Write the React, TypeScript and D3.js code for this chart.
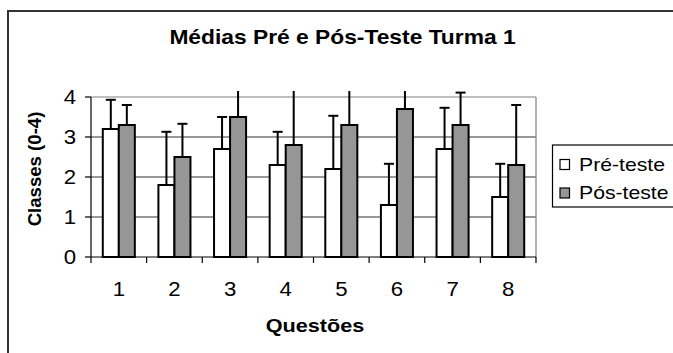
import React from "react";
import * as d3 from "d3";

const categories = ["1", "2", "3", "4", "5", "6", "7", "8"];
const seriesNames = ["Pré-teste", "Pós-teste"];
const preValues = [3.2, 1.8, 2.7, 2.3, 2.2, 1.3, 2.7, 1.5];
const posValues = [3.3, 2.5, 3.5, 2.8, 3.3, 3.7, 3.3, 2.3];
const preErrors = [0.73, 1.33, 0.8, 0.83, 1.33, 1.03, 1.03, 0.83];
const posErrors = [0.5, 0.83, 1.0, 1.5, 1.1, 0.8, 0.81, 1.5];
const yTicks = [0, 1, 2, 3, 4];
const title = "Médias Pré e Pós-Teste Turma 1";
const xTitle = "Questões";
const yTitle = "Classes (0-4)";

const W = 673;
const H = 353;
const plot = { left: 91, right: 536, top: 97, bottom: 257 };
const fills = ["#ffffff", "#969696"];
const FONT = "'Liberation Sans', Arial, Helvetica, sans-serif";
const SX = 1.14;

export default function App() {
  const x0 = d3
    .scaleBand<string>()
    .domain(categories)
    .range([plot.left, plot.right])
    .paddingInner(0.424)
    .paddingOuter(0.212);
  const x1 = d3
    .scaleBand<number>()
    .domain([0, 1])
    .range([0, x0.bandwidth()]);
  const y = d3.scaleLinear().domain([0, 4]).range([plot.bottom, plot.top]);
  const step = x0.step();

  const series = [
    { values: preValues, errors: preErrors },
    { values: posValues, errors: posErrors },
  ];

  const boundaries = d3.range(categories.length + 1).map((i) => plot.left + i * step);

  const stretchText = (
    x: number,
    yy: number,
    text: string,
    opts: { size: number; bold?: boolean; anchor?: string; key?: string }
  ) => (
    <text
      key={opts.key}
      transform={`translate(${x},${yy}) scale(${SX},1)`}
      textAnchor={opts.anchor || "middle"}
      fontFamily={FONT}
      fontSize={opts.size}
      fontWeight={opts.bold ? "bold" : "normal"}
      fill="#000"
    >
      {text}
    </text>
  );

  return (
    <svg
      width={W}
      height={H}
      style={{ position: "absolute", left: 0, top: 0, background: "#fff" }}
    >
      <defs>
        <clipPath id="errclip">
          <rect x={0} y={91} width={W} height={H} />
        </clipPath>
      </defs>
      {/* chart border */}
      <rect x={8} y={11} width={720} height={400} fill="#fff" stroke="#333" strokeWidth={2} />

      {/* title */}
      {stretchText(342.5, 43.5, title, { size: 20, bold: true })}

      {/* gridlines */}
      {yTicks.slice(1).map((t) => (
        <line
          key={"g" + t}
          x1={plot.left}
          x2={plot.right}
          y1={y(t)}
          y2={y(t)}
          stroke={t === 4 ? "#808080" : "#333"}
          strokeWidth={1.2}
        />
      ))}
      {/* plot area right border */}
      <line x1={plot.right} x2={plot.right} y1={plot.top} y2={plot.bottom} stroke="#808080" strokeWidth={1.2} />

      {/* bars */}
      {series.map((s, si) =>
        categories.map((c, ci) => {
          const bx = (x0(c) as number) + (x1(si) as number);
          const v = s.values[ci];
          return (
            <rect
              key={`b${si}-${ci}`}
              x={bx}
              y={y(v)}
              width={x1.bandwidth()}
              height={y(0) - y(v)}
              fill={fills[si]}
              stroke="#000"
              strokeWidth={2}
            />
          );
        })
      )}

      {/* error bars */}
      <g clipPath="url(#errclip)">
        {series.map((s, si) =>
          categories.map((c, ci) => {
            const cx = (x0(c) as number) + (x1(si) as number) + x1.bandwidth() / 2;
            const v = s.values[ci];
            const top = v + s.errors[ci];
            return (
              <g key={`e${si}-${ci}`} stroke="#000" strokeWidth={2}>
                <line x1={cx} x2={cx} y1={y(v)} y2={y(top)} />
                <line x1={cx - 5} x2={cx + 5} y1={y(top)} y2={y(top)} />
              </g>
            );
          })
        )}
      </g>

      {/* axes */}
      <line x1={plot.left} x2={plot.left} y1={plot.top} y2={plot.bottom} stroke="#000" strokeWidth={1.2} />
      <line x1={plot.left} x2={plot.right} y1={plot.bottom} y2={plot.bottom} stroke="#000" strokeWidth={1.2} />
      {yTicks.map((t) => (
        <g key={"yt" + t}>
          <line x1={plot.left - 6} x2={plot.left} y1={y(t)} y2={y(t)} stroke="#000" strokeWidth={1.2} />
          {stretchText(76, y(t) + 7, String(t), { size: 19.5, anchor: "end" })}
        </g>
      ))}
      {boundaries.map((bx, i) => (
        <line key={"xt" + i} x1={bx} x2={bx} y1={plot.bottom} y2={plot.bottom + 6} stroke="#000" strokeWidth={1.2} />
      ))}
      {categories.map((c) =>
        stretchText((x0(c) as number) + x0.bandwidth() / 2, 295.5, c, { size: 19.5, key: "xl" + c })
      )}

      {/* axis titles */}
      {stretchText(315, 331.5, xTitle, { size: 19, bold: true })}
      <text
        transform={`translate(40.5,169) rotate(-90)`}
        textAnchor="middle"
        fontFamily={FONT}
        fontSize={18.6}
        fontWeight="bold"
        fill="#000"
      >
        {yTitle}
      </text>

      {/* legend */}
      <rect x={552.5} y={145} width={200} height={62} fill="#fff" stroke="#000" strokeWidth={1.2} />
      {seriesNames.map((name, i) => (
        <g key={"lg" + i}>
          <rect
            x={560}
            y={159.5 + i * 28.5}
            width={9.5}
            height={10}
            fill={fills[i]}
            stroke="#000"
            strokeWidth={1.2}
          />
          {stretchText(579, 170.5 + i * 28.5, name, { size: 18.6, anchor: "start" })}
        </g>
      ))}
    </svg>
  );
}
